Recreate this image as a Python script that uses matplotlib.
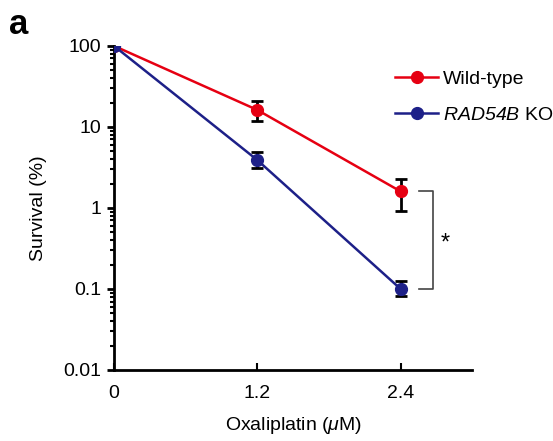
import numpy as np
import matplotlib
matplotlib.use("Agg")
from matplotlib import pyplot as plt

plt.rcParams['font.family'] = ['Liberation Sans', 'DejaVu Sans']
plt.rcParams['mathtext.fontset'] = 'custom'
plt.rcParams['mathtext.it'] = 'Liberation Sans:italic'
plt.rcParams['mathtext.rm'] = 'Liberation Sans:italic'

dose = [0, 1.2, 2.4]
wt = [100, 16.2, 1.6]
wt_lo = [0, 4.3, 0.68]
wt_hi = [0, 4.7, 0.68]
ko = [100, 3.9, 0.1]
ko_lo = [0, 0.8, 0.018]
ko_hi = [0, 1.0, 0.026]
labels = ['Wild-type', r'$\mathrm{RAD54B}$ KO']

fig = plt.figure(figsize=(5.53, 4.41), dpi=100)
ax = fig.add_axes([0.206, 0.161, 0.648, 0.735])

ax.errorbar(dose[1:], wt[1:], yerr=[wt_lo[1:], wt_hi[1:]], fmt='none', ecolor='black',
            elinewidth=2, capsize=4, capthick=2, zorder=2)
ax.errorbar(dose[1:], ko[1:], yerr=[ko_lo[1:], ko_hi[1:]], fmt='none', ecolor='black',
            elinewidth=2, capsize=4, capthick=2, zorder=2)
ax.plot(dose, wt, color='#e60012', lw=1.8, marker='o', ms=8.5, label=labels[0], zorder=3)
ax.plot(dose, ko, color='#1d2088', lw=1.8, marker='o', ms=8.5, label=labels[1], zorder=4)

ax.set_yscale('log')
ax.set_ylim(0.01, 100)
ax.set_xlim(0, 3)
ax.set_xticks([0, 1.2, 2.4])
ax.set_xticklabels(['0', '1.2', '2.4'])
ax.set_yticks([0.01, 0.1, 1, 10, 100])
ax.set_yticklabels(['0.01', '0.1', '1', '10', '100'])
ax.tick_params(axis='y', which='major', direction='out', length=5, width=2, labelsize=14, pad=4)
ax.tick_params(axis='y', which='minor', direction='out', length=3, width=1.5)
ax.tick_params(axis='x', which='major', direction='in', length=5, width=1.5, labelsize=14, pad=11)
for s in ['top', 'right']:
    ax.spines[s].set_visible(False)
for s in ['left', 'bottom']:
    ax.spines[s].set_linewidth(2)

ax.set_ylabel('Survival (%)', fontsize=14, labelpad=12)
ax.set_xlabel(r'Oxaliplatin ($\mu$M)', fontsize=14, labelpad=9)

leg = ax.legend(loc='upper left', bbox_to_anchor=(0.785, 0.925), frameon=False, fontsize=14,
                handlelength=2.2, handletextpad=0.25, labelspacing=0.95,
                borderpad=0, borderaxespad=0)

# significance bracket
ax.plot([2.55, 2.67, 2.67, 2.55], [wt[2], wt[2], ko[2], ko[2]], color='#444444', lw=1.2,
        clip_on=False)
ax.text(2.77, 0.36, '*', fontsize=17, ha='center', va='center')

fig.text(0.016, 0.945, 'a', fontsize=25, fontweight='bold', va='center')

fig.savefig('out.png', dpi=100)
